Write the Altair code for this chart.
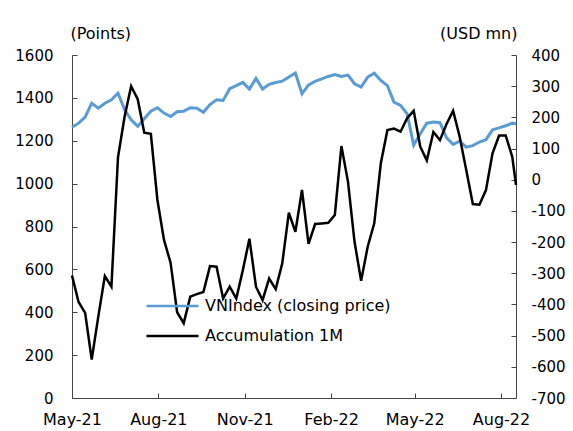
import altair as alt
import pandas as pd

# ---- data ----
dates = list(pd.date_range("2021-05-01", periods=68, freq="7D").strftime("%Y-%m-%dT00:00:00")) + ["2022-08-17T00:00:00"]

vnindex = [1263, 1282, 1310, 1375, 1352, 1375, 1391, 1422, 1345, 1298,
           1267, 1303, 1338, 1354, 1329, 1313, 1335, 1338, 1354, 1352,
           1333, 1369, 1391, 1388, 1443, 1457, 1472, 1441, 1491, 1441,
           1463, 1472, 1478, 1497, 1516, 1419, 1461, 1477, 1489, 1500,
           1509, 1500, 1506, 1466, 1450, 1497, 1515, 1481, 1457, 1380,
           1365, 1326, 1180, 1233, 1282, 1287, 1284, 1214, 1183, 1198,
           1170, 1177, 1194, 1205, 1251, 1260, 1270, 1282, 1279]

accum = [-307, -392, -427, -577, -439, -309, -343, 72, 202, 300,
         258, 151, 147, -65, -193, -266, -425, -460, -375, -367,
         -360, -277, -279, -381, -343, -381, -290, -189, -343, -386,
         -317, -351, -268, -106, -167, -33, -206, -142, -140, -138,
         -113, 108, -6, -199, -324, -215, -140, 53, 159, 164,
         154, 197, 221, 106, 62, 153, 127, 179, 221, 138,
         31, -78, -80, -33, 85, 142, 142, 74, -17]

series_names = ["VNIndex (closing price)", "Accumulation 1M"]
series_colors = ["#5B9BD5", "#000000"]

left_ticks = [0, 200, 400, 600, 800, 1000, 1200, 1400, 1600]
right_ticks = [-700, -600, -500, -400, -300, -200, -100, 0, 100, 200, 300, 400]
month_ticks = [(2021, 5), (2021, 8), (2021, 11), (2022, 2), (2022, 5), (2022, 8)]

df_vn = pd.DataFrame({"date": dates, "value": vnindex, "series": series_names[0]})
df_acc = pd.DataFrame({"date": dates, "value": accum, "series": series_names[1]})

FONT = "DejaVu Sans"
AXIS_COL = "#444444"
W, H = 444, 343

x_scale = alt.Scale(domain=[alt.DateTime(year=2021, month=5, date=1),
                            alt.DateTime(year=2022, month=8, date=17)])
x_values = [alt.DateTime(year=y, month=m, date=1) for y, m in month_ticks]

# main bottom axis: labels only
x_main = alt.X("date:T", title=None, scale=x_scale,
               axis=alt.Axis(values=x_values, format="%b-%y", grid=False,
                             labelFontSize=16, labelFont=FONT, labelColor="black",
                             ticks=False, labelPadding=13, domainColor=AXIS_COL,
                             labelFlush=False))
# inward ticks along the bottom edge
x_ticks = alt.X("date:T", title=None, scale=x_scale,
                axis=alt.Axis(values=x_values, orient="top", offset=-H, grid=False,
                              labels=False, domain=False, ticks=True, tickSize=5,
                              tickColor=AXIS_COL))
x_none = alt.X("date:T", title=None, scale=x_scale, axis=None)

lbl = "'' + datum.value"

color_enc = alt.Color(
    "series:N",
    scale=alt.Scale(domain=series_names, range=series_colors),
    legend=alt.Legend(title=None, orient="none", legendX=73, legendY=241,
                      symbolType="stroke", symbolSize=2704, symbolStrokeWidth=2.5,
                      labelFontSize=16, labelFont=FONT, labelColor="black",
                      labelLimit=400, clipHeight=20, rowPadding=10, labelOffset=5,
                      padding=0, symbolOpacity=1),
)

vn_line = alt.Chart(df_vn).mark_line(strokeWidth=3).encode(
    x=x_main,
    y=alt.Y("value:Q", scale=alt.Scale(domain=[0, 1600]),
            axis=alt.Axis(values=left_ticks, orient="left", grid=False,
                          title="(Points)", titleAngle=0, titleX=-2, titleY=-22,
                          titleAlign="left", titleBaseline="middle",
                          titleFontSize=16, titleFontWeight="normal", titleFont=FONT,
                          titleColor="black", labelExpr=lbl,
                          labelFontSize=15, labelFont=FONT, labelColor="black",
                          ticks=False, labelPadding=19, domainColor=AXIS_COL)),
    color=color_enc,
)

acc_line = alt.Chart(df_acc).mark_line(strokeWidth=2.5).encode(
    x=x_ticks,
    y=alt.Y("value:Q", scale=alt.Scale(domain=[-700, 400]),
            axis=alt.Axis(values=right_ticks, orient="right", grid=False,
                          title="(USD mn)", titleAngle=0, titleX=1, titleY=-22,
                          titleAlign="right", titleBaseline="middle",
                          titleFontSize=16, titleFontWeight="normal", titleFont=FONT,
                          titleColor="black", labelExpr=lbl,
                          labelFontSize=15, labelFont=FONT, labelColor="black",
                          ticks=False, labelPadding=15, domainColor=AXIS_COL)),
    color=color_enc,
)

# invisible copies that only carry inward tick marks for the two value axes
left_tick_layer = alt.Chart(df_vn).mark_line(opacity=0).encode(
    x=x_none,
    y=alt.Y("value:Q", scale=alt.Scale(domain=[0, 1600]),
            axis=alt.Axis(values=left_ticks, orient="right", offset=-W, grid=False,
                          labels=False, domain=False, ticks=True, tickSize=5,
                          tickColor=AXIS_COL, title=None)),
)
right_tick_layer = alt.Chart(df_acc).mark_line(opacity=0).encode(
    x=x_none,
    y=alt.Y("value:Q", scale=alt.Scale(domain=[-700, 400]),
            axis=alt.Axis(values=right_ticks, orient="left", offset=-W, grid=False,
                          labels=False, domain=False, ticks=True, tickSize=5,
                          tickColor=AXIS_COL, title=None)),
)

chart = (
    alt.layer(vn_line, acc_line, left_tick_layer, right_tick_layer)
    .resolve_scale(y="independent")
    .resolve_axis(x="independent")
    .properties(width=W, height=H, autosize="none",
                padding={"left": 64, "top": 47, "right": 49, "bottom": 33},
                background="white")
    .configure_view(stroke=None)
)

chart.save("out.html", embed_options={"renderer": "svg", "actions": False})
